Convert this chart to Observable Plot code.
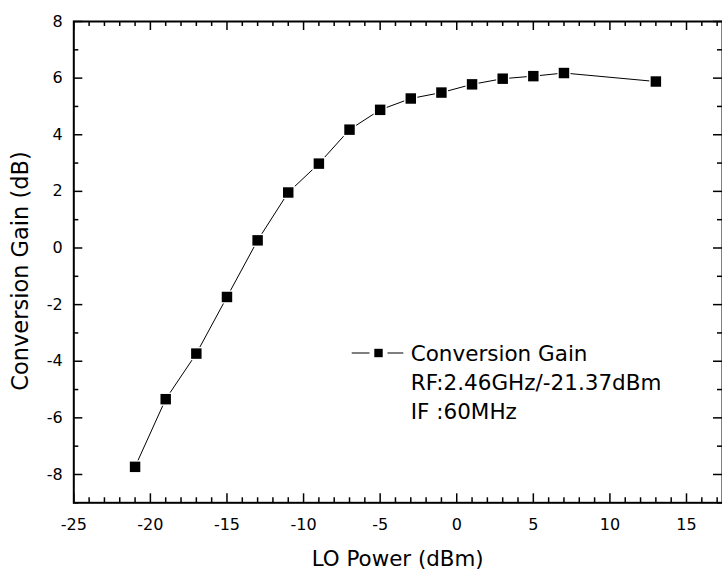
<!DOCTYPE html>
<html><head><meta charset="utf-8">
<script src="https://cdn.jsdelivr.net/npm/d3@7"></script>
<script src="https://cdn.jsdelivr.net/npm/@observablehq/plot@0.6"></script>
<style>body{margin:0;background:#fff} svg{display:block}</style>
</head><body><div id="chart"></div>
<script>
// Data
const loPower = [-21, -19, -17, -15, -13, -11, -9, -7, -5, -3, -1, 1, 3, 5, 7, 13];
const gain = [-7.73, -5.34, -3.73, -1.73, 0.27, 1.96, 2.98, 4.18, 4.88, 5.28, 5.49, 5.78, 5.98, 6.07, 6.18, 5.88];
const xMajor = [-25, -20, -15, -10, -5, 0, 5, 10, 15];
const xMinor = [-24, -23, -22, -21, -19, -18, -17, -16, -14, -13, -12, -11, -9, -8, -7, -6, -4, -3, -2, -1, 1, 2, 3, 4, 6, 7, 8, 9, 11, 12, 13, 14, 16, 17];
const yMajor = [-8, -6, -4, -2, 0, 2, 4, 6, 8];
const yMinor = [-9, -7, -5, -3, -1, 1, 3, 5, 7];
const xTitle = "LO Power (dBm)";
const yTitle = "Conversion Gain (dB)";
const legendLines = ["Conversion Gain", "RF:2.46GHz/-21.37dBm", "IF :60MHz"];

const W = 722, H = 572, mL = 73.3, mT = 21, mB = 69.7, mR = 0;
const innerW = W - mL - mR, innerH = H - mT - mB;
const data = loPower.map((x, i) => ({x, y: gain[i]}));
const FONT = "DejaVu Sans";
const majorLen = 9, minorLen = 5;
const fmt = d => String(d);

const svg = Plot.plot({
  width: W, height: H,
  marginLeft: mL, marginTop: mT, marginBottom: mB, marginRight: mR,
  style: {fontFamily: FONT, fontSize: "16px", color: "#000", background: "#fff"},
  x: {domain: [-25, 17.35]},
  y: {domain: [-9, 8]},
  marks: [
    Plot.axisX(xMajor, {anchor: "bottom", tickSize: 0, tickPadding: 16, label: null, fontSize: 16, tickFormat: fmt}),
    Plot.axisY(yMajor, {anchor: "left", tickSize: 0, tickPadding: 11, label: null, fontSize: 16, tickFormat: fmt}),
    // inward ticks: bottom
    Plot.tickX(xMajor, {x: d => d, insetTop: innerH - majorLen, stroke: "#000", strokeWidth: 1.5}),
    Plot.tickX(xMinor, {x: d => d, insetTop: innerH - minorLen, stroke: "#000", strokeWidth: 1.5}),
    // top
    Plot.tickX(xMajor, {x: d => d, insetBottom: innerH - majorLen, stroke: "#000", strokeWidth: 1.5}),
    Plot.tickX(xMinor, {x: d => d, insetBottom: innerH - minorLen, stroke: "#000", strokeWidth: 1.5}),
    // left
    Plot.tickY(yMajor, {y: d => d, insetRight: innerW - majorLen, stroke: "#000", strokeWidth: 1.5}),
    Plot.tickY(yMinor, {y: d => d, insetRight: innerW - minorLen, stroke: "#000", strokeWidth: 1.5}),
    // right
    Plot.tickY(yMajor, {y: d => d, insetLeft: innerW - majorLen, stroke: "#000", strokeWidth: 1.5}),
    Plot.tickY(yMinor, {y: d => d, insetLeft: innerW - minorLen, stroke: "#000", strokeWidth: 1.5}),
    Plot.frame({stroke: "#000", strokeWidth: 2}),
    Plot.line(data, {x: "x", y: "y", stroke: "#000", strokeWidth: 1}),
    Plot.dot(data, {x: "x", y: "y", symbol: "square", r: 7.4, fill: "#fff", stroke: "none"}),
    Plot.dot(data, {x: "x", y: "y", symbol: "square", r: 5.9, fill: "#000", stroke: "none"})
  ]
});

const s = d3.select(svg);
// axis titles
s.append("text")
  .attr("x", mL + innerW / 2).attr("y", 566)
  .attr("text-anchor", "middle")
  .attr("font-family", FONT).attr("font-size", 21.4).attr("fill", "#000")
  .text(xTitle);
s.append("text")
  .attr("transform", "translate(27.5,271) rotate(-90)")
  .attr("text-anchor", "middle")
  .attr("font-family", FONT).attr("font-size", 22.5).attr("fill", "#000")
  .text(yTitle);

// legend
const lg = s.append("g").attr("text-anchor", "start");
lg.append("line").attr("x1", 351.7).attr("x2", 369.5).attr("y1", 353).attr("y2", 353).attr("stroke", "#000").attr("stroke-width", 1);
lg.append("line").attr("x1", 387.5).attr("x2", 403.3).attr("y1", 353).attr("y2", 353).attr("stroke", "#000").attr("stroke-width", 1);
lg.append("rect").attr("x", 374.3).attr("y", 348.8).attr("width", 8.4).attr("height", 8.4).attr("fill", "#000");
legendLines.forEach((t, i) => {
  lg.append("text")
    .attr("x", 410.7).attr("y", [361, 389.5, 419][i])
    .attr("text-anchor", "start")
    .attr("font-family", FONT).attr("font-size", 21.5).attr("fill", "#000")
    .text(t);
});

document.getElementById("chart").appendChild(svg);
</script>
</body></html>
